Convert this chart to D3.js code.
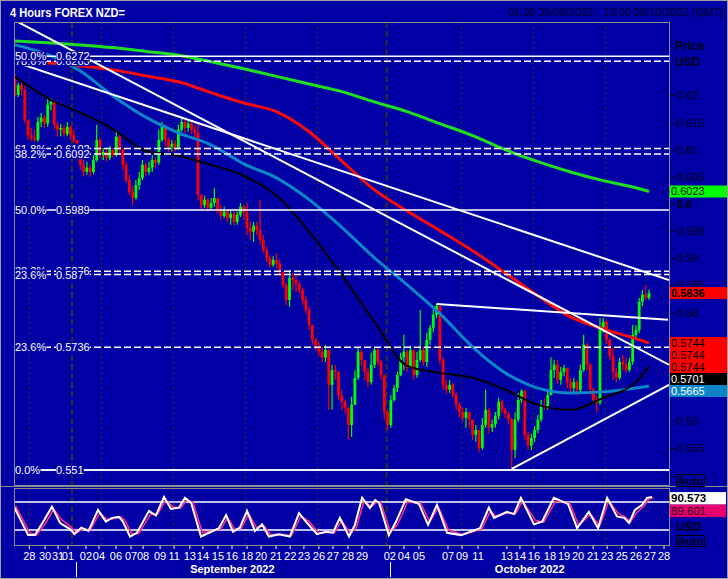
<!DOCTYPE html>
<html><head><meta charset="utf-8">
<script src="https://cdn.jsdelivr.net/npm/d3@7"></script>
<style>
body{margin:0;background:#0000a4;}
svg{display:block}
text{font-family:"Liberation Sans",Arial,sans-serif;}
</style></head>
<body><svg id="c" width="728" height="579"></svg>
<script>
// ---------------- DATA ----------------
const titleText = "4 Hours FOREX NZD=";
const rangeText = "01:00 26/08/2022 - 13:00 28/10/2022 (GMT)";
const firstOpen = 0.6234;
const closes = [
0.6201,0.6219,0.6210,0.6155,0.6127,0.6122,0.6118,0.6151,0.6159,0.6148,
0.6183,0.6188,0.6146,0.6137,0.6140,0.6129,0.6142,0.6127,0.6118,0.6100,
0.6072,0.6059,0.6067,0.6059,0.6081,0.6118,0.6090,0.6096,0.6085,0.6100,
0.6090,0.6124,0.6100,0.6072,0.6044,0.6022,0.6011,0.6035,0.6048,0.6072,
0.6059,0.6067,0.6081,0.6076,0.6118,0.6146,0.6118,0.6105,0.6111,0.6103,
0.6137,0.6151,0.6140,0.6148,0.6137,0.6131,0.6017,0.5998,0.6008,0.5993,
0.6002,0.6011,0.5989,0.5978,0.5986,0.5974,0.5982,0.5967,0.5980,0.5995,
0.5984,0.5956,0.5949,0.5960,0.5952,0.5934,0.5916,0.5901,0.5888,0.5897,
0.5890,0.5875,0.5851,0.5823,0.5864,0.5860,0.5853,0.5842,0.5823,0.5805,
0.5777,0.5750,0.5739,0.5728,0.5717,0.5731,0.5667,0.5694,0.5691,0.5648,
0.5636,0.5625,0.5593,0.5630,0.5680,0.5728,0.5713,0.5691,0.5672,0.5704,
0.5731,0.5709,0.5685,0.5617,0.5593,0.5639,0.5661,0.5685,0.5717,0.5728,
0.5698,0.5731,0.5685,0.5713,0.5731,0.5709,0.5750,0.5772,0.5796,0.5812,
0.5713,0.5667,0.5658,0.5667,0.5648,0.5630,0.5617,0.5606,0.5617,0.5603,
0.5575,0.5584,0.5551,0.5593,0.5621,0.5588,0.5595,0.5610,0.5636,0.5621,
0.5614,0.5603,0.5547,0.5603,0.5639,0.5656,0.5575,0.5555,0.5569,0.5584,
0.5603,0.5630,0.5627,0.5648,0.5694,0.5704,0.5676,0.5691,0.5698,0.5672,
0.5661,0.5672,0.5658,0.5694,0.5741,0.5704,0.5658,0.5639,0.5634,0.5772,
0.5783,0.5750,0.5720,0.5691,0.5680,0.5709,0.5704,0.5694,0.5709,0.5759,
0.5768,0.5820,0.5833,0.5827,0.5836];
const highs = [
0.6238,0.6223,0.6225,0.6218,0.6155,0.6140,0.6137,0.6160,0.6168,0.6164,
0.6195,0.6195,0.6192,0.6151,0.6148,0.6146,0.6151,0.6144,0.6137,0.6118,
0.6103,0.6081,0.6078,0.6072,0.6090,0.6146,0.6122,0.6103,0.6100,0.6107,
0.6103,0.6133,0.6127,0.6103,0.6078,0.6054,0.6033,0.6044,0.6059,0.6081,
0.6076,0.6078,0.6090,0.6085,0.6137,0.6151,0.6142,0.6122,0.6118,0.6118,
0.6146,0.6159,0.6155,0.6155,0.6151,0.6144,0.6151,0.6017,0.6015,0.6011,
0.6011,0.6030,0.6011,0.5998,0.5995,0.5989,0.5989,0.5986,0.5986,0.6002,
0.5998,0.6002,0.5967,0.5967,0.5967,0.6008,0.5943,0.5921,0.5906,0.5904,
0.5910,0.5897,0.5875,0.5855,0.5879,0.5873,0.5868,0.5857,0.5846,0.5831,
0.5811,0.5777,0.5753,0.5746,0.5737,0.5741,0.5731,0.5704,0.5704,0.5691,
0.5658,0.5639,0.5625,0.5645,0.5694,0.5735,0.5731,0.5713,0.5698,0.5726,
0.5737,0.5735,0.5713,0.5685,0.5621,0.5648,0.5667,0.5691,0.5726,0.5759,
0.5731,0.5739,0.5731,0.5728,0.5805,0.5737,0.5763,0.5777,0.5805,0.5816,
0.5812,0.5717,0.5676,0.5676,0.5671,0.5654,0.5634,0.5625,0.5625,0.5614,
0.5603,0.5593,0.5584,0.5606,0.5658,0.5625,0.5603,0.5617,0.5643,0.5639,
0.5625,0.5617,0.5606,0.5616,0.5652,0.5659,0.5658,0.5580,0.5577,0.5591,
0.5612,0.5639,0.5643,0.5658,0.5718,0.5713,0.5713,0.5700,0.5704,0.5698,
0.5680,0.5680,0.5676,0.5704,0.5759,0.5744,0.5707,0.5661,0.5648,0.5790,
0.5790,0.5787,0.5753,0.5735,0.5698,0.5717,0.5722,0.5717,0.5717,0.5777,
0.5777,0.5827,0.5842,0.5851,0.5842];
const lows = [
0.6197,0.6197,0.6201,0.6149,0.6118,0.6116,0.6114,0.6114,0.6142,0.6140,
0.6142,0.6173,0.6137,0.6124,0.6125,0.6124,0.6125,0.6118,0.6113,0.6090,
0.6063,0.6052,0.6054,0.6050,0.6055,0.6078,0.6085,0.6081,0.6078,0.6081,
0.6085,0.6087,0.6090,0.6063,0.6039,0.6017,0.5998,0.6008,0.6026,0.6044,
0.6052,0.6054,0.6059,0.6067,0.6072,0.6114,0.6107,0.6096,0.6096,0.6096,
0.6100,0.6133,0.6131,0.6133,0.6129,0.6122,0.6008,0.5989,0.5993,0.5986,
0.5989,0.5995,0.5982,0.5971,0.5974,0.5967,0.5962,0.5960,0.5962,0.5976,
0.5971,0.5943,0.5934,0.5930,0.5943,0.5925,0.5910,0.5893,0.5882,0.5884,
0.5882,0.5868,0.5846,0.5814,0.5811,0.5842,0.5838,0.5835,0.5814,0.5798,
0.5768,0.5741,0.5731,0.5720,0.5709,0.5709,0.5621,0.5621,0.5676,0.5639,
0.5621,0.5614,0.5566,0.5571,0.5630,0.5676,0.5702,0.5676,0.5663,0.5667,
0.5698,0.5702,0.5676,0.5603,0.5584,0.5588,0.5636,0.5654,0.5683,0.5694,
0.5691,0.5698,0.5676,0.5680,0.5709,0.5702,0.5700,0.5741,0.5764,0.5790,
0.5704,0.5658,0.5650,0.5652,0.5643,0.5621,0.5608,0.5599,0.5588,0.5588,
0.5566,0.5562,0.5542,0.5547,0.5588,0.5577,0.5580,0.5588,0.5603,0.5614,
0.5606,0.5595,0.5512,0.5532,0.5599,0.5634,0.5566,0.5547,0.5547,0.5562,
0.5578,0.5599,0.5621,0.5621,0.5648,0.5680,0.5669,0.5667,0.5683,0.5661,
0.5654,0.5654,0.5648,0.5654,0.5691,0.5694,0.5648,0.5632,0.5616,0.5630,
0.5763,0.5742,0.5713,0.5676,0.5672,0.5676,0.5694,0.5689,0.5691,0.5704,
0.5753,0.5763,0.5812,0.5823,0.5823];

// moving averages sampled at bar indices
const maIndex = [0,10,20,30,40,50,60,70,80,90,100,110,120,130,140,150,160,170,180,190,194];
const maGreen = [0.6300,0.6297,0.6293,0.6288,0.6281,0.6274,0.6262,0.6249,0.6235,0.6221,0.6207,0.6188,0.6170,0.6148,0.6126,0.6100,0.6078,0.6059,0.6043,0.6030,0.6023];
const maRed   = [null,0.6260,0.6254,0.6247,0.6236,0.6225,0.6205,0.6186,0.6170,0.6133,0.6079,0.6026,0.5987,0.5951,0.5914,0.5873,0.5831,0.5792,0.5770,0.5752,0.5744];
const maTeal  = [0.6293,0.6275,0.6245,0.6199,0.6160,0.6131,0.6109,0.6074,0.6048,0.6008,0.5957,0.5901,0.5851,0.5798,0.5737,0.5689,0.5661,0.5652,0.5654,0.5661,0.5665];
const maBlack = [0.6234,0.6195,0.6168,0.6138,0.6098,0.6089,0.6072,0.6052,0.6015,0.5949,0.5869,0.5783,0.5702,0.5689,0.5680,0.5658,0.5630,0.5621,0.5643,0.5672,0.5701];

// trend lines (bar, price) -> (bar, price)
const trendStartBar   = [-0.3, -0.3, 129, 152];
const trendStartPrice = [0.6339, 0.6262, 0.5816, 0.5512];
const trendEndBar     = [200.1, 200.1, 199.8, 200.1];
const trendEndPrice   = [0.5704, 0.5860, 0.5787, 0.5667];

// fibonacci retracements
const fibLevelsA = ["0.0%","23.6%","38.2%","50.0%","61.8%","78.6%"];
const fibValuesA = [0.551,0.5736,0.5876,0.5989,0.6102,0.6263];
const fibLevelsB = ["0.0%","23.6%","38.2%","50.0%"];
const fibValuesB = [0.551,0.587,0.6092,0.6272];

// price axis
const priceTicks = [0.62,0.615,0.61,0.605,0.6,0.595,0.59,0.585,0.58,0.575,0.57,0.565,0.56,0.555,0.55];
const markerValues = [0.6023,0.5836,0.5744,0.5744,0.5744,0.5701,0.5665];

// time axis
const dayLabels = ["28","30","31","01","02","04","06","07","08","09","11","13","14","15","16","18","20","21","22","23","26","27","28","29",
                   "02","04","05","07","09","11","13","14","16","18","19","20","21","23","25","26","27","28"];
const dayBars = [4.4,9.2,13.2,16.2,21.7,25.7,30.9,35.5,39.2,44.4,48.7,53.5,57.5,62.1,66.4,71.0,75.3,79.9,84.2,88.4,93.0,97.3,101.9,106.2,
                 114.7,119.0,123.6,132.5,136.8,141.7,150.5,154.5,158.8,163.7,168.0,172.3,176.9,181.2,185.7,190.0,194.3,198.6];
const monthLabels = ["September 2022","October 2022"];
const monthCenterBars = [66.5,157.5];
const monthStartBars = [18.7,114.6];
const weekGridBars = [4.28,26.3,48.35,70.4,92.4,136.5,158.5,180.5];
const monthGridBars = [17.44,113.7];

// oscillator
const oscBars = [-0.3,4.0,6.1,8.9,11.3,13.8,16.8,18.2,20.3,22.5,25.4,27.8,29.7,31.8,33.0,35.2,37.3,41.0,43.1,45.6,47.7,50.2,52.0,53.9,56.9,
  62.4,64.6,66.7,68.8,71.0,73.4,75.6,77.7,80.8,84.1,86.9,89.4,92.4,95.2,97.3,99.4,102.2,104.0,106.2,108.6,110.2,111.4,114.4,116.6,119.6,
  123.6,126.4,129.1,132.2,136.5,142.3,145.0,146.6,150.5,152.7,154.8,158.8,161.3,164.9,169.2,172.0,175.6,178.4,181.2,184.2,186.4,187.9,189.7,191.9,193.4,194.9];
const oscWhite = [70,9,9,41,70,35,22,11,25,18,63,38,46,48,38,6,14,61,51,91,65,68,89,78,6,
  24,52,16,25,61,18,32,6,11,6,56,35,11,16,14,46,6,31,89,67,84,78,9,38,86,
  76,31,74,14,9,24,68,46,59,54,89,32,38,89,76,24,59,24,89,49,46,35,63,74,89,90.573];
const oscPink = [72,14,9,35,65,42,25,14,22,20,56,42,44,48,42,12,12,54,54,84,70,67,84,80,14,
  22,46,22,24,55,25,30,10,10,8,49,39,14,15,14,40,12,26,80,71,80,79,15,32,80,
  78,38,68,20,10,22,61,50,57,55,82,40,37,82,78,30,54,29,82,55,47,38,57,71,86,89.601];
const oscLevels = [80,20];
const oscLast = [90.573,89.601];

// ---------------- DRAW ----------------
const BG="#0000a4", GRAY="#8c8c8c", AX="#000018";
const svg=d3.select("#c");
const P={x0:14,x1:669,y0:22,y1:485};
const O={y0:488,y1:545};
const x=d3.scaleLinear().domain([0,194]).range([15,649]);
const y=d3.scaleLinear().domain([0.55,0.62]).range([475.5,95.4]);
const yo=d3.scaleLinear().domain([0,100]).range([539.3,492.7]);

svg.append("rect").attr("width",728).attr("height",579).attr("fill",BG);
const defs=svg.append("defs");
defs.append("clipPath").attr("id","cm").append("rect").attr("x",P.x0).attr("y",P.y0).attr("width",P.x1-P.x0).attr("height",P.y1-P.y0);
defs.append("clipPath").attr("id","co").append("rect").attr("x",P.x0).attr("y",O.y0).attr("width",P.x1-P.x0).attr("height",O.y1-O.y0);

// grid
function grid(y0,y1){
  const g=svg.append("g");
  g.selectAll(".w").data(weekGridBars).join("line").attr("x1",d=>Math.round(x(d))+0.5).attr("x2",d=>Math.round(x(d))+0.5)
    .attr("y1",y0).attr("y2",y1).attr("stroke","#2c2c3a").attr("stroke-width",1.2).attr("stroke-dasharray","2,3");
  g.selectAll(".m").data(monthGridBars).join("line").attr("x1",d=>x(d)).attr("x2",d=>x(d))
    .attr("y1",y0).attr("y2",y1).attr("stroke","#2c2c34").attr("stroke-width",2.2).attr("stroke-dasharray","6,3");
}
grid(P.y0,P.y1); grid(O.y0,O.y1);

const main=svg.append("g").attr("clip-path","url(#cm)");

// candles
const bars=closes.map((c,i)=>{const o=i===0?firstOpen:closes[i-1];return {i,o,c,h:Math.max(highs[i],o,c),l:Math.min(lows[i],o,c)};});
const cg=main.append("g");
cg.selectAll("line").data(bars).join("line")
  .attr("x1",d=>x(d.i)).attr("x2",d=>x(d.i)).attr("y1",d=>y(d.h)).attr("y2",d=>y(d.l))
  .attr("stroke",d=>d.c>=d.o?"#00ff00":"#ff0000").attr("stroke-width",1.2);
cg.selectAll("rect").data(bars).join("rect")
  .attr("x",d=>x(d.i)-1.4).attr("width",2.8)
  .attr("y",d=>y(Math.max(d.o,d.c))).attr("height",d=>Math.max(1.5,Math.abs(y(d.o)-y(d.c))))
  .attr("fill",d=>d.c>=d.o?"#00ff00":"#ff0000");

// moving averages
function ma(vals,color,w){
  const line=d3.line().defined(d=>d[1]!=null).x(d=>x(d[0])).y(d=>y(d[1])).curve(d3.curveMonotoneX);
  main.append("path").datum(maIndex.map((b,k)=>[b,vals[k]])).attr("d",line)
    .attr("fill","none").attr("stroke",color).attr("stroke-width",w);
}
ma(maGreen,"#1fe01f",3);
ma(maRed,"#ff0a0a",3);
ma(maTeal,"#0a86c8",3);
ma(maBlack,"#000000",2);

// fib lines
const fibAll=[...fibValuesA.map((v,k)=>({v,l:fibLevelsA[k]})),...fibValuesB.map((v,k)=>({v,l:fibLevelsB[k]}))];
main.selectAll(".fib").data(fibAll).join("line")
  .attr("x1",P.x0).attr("x2",P.x1).attr("y1",d=>y(d.v)).attr("y2",d=>y(d.v))
  .attr("stroke","#ffffff").attr("stroke-width",1.5)
  .attr("stroke-dasharray",d=>(d.l==="50.0%"||d.l==="0.0%")?null:"7,3");

// trend lines
main.selectAll(".tl").data(trendStartBar.map((b,k)=>k)).join("line")
  .attr("x1",k=>x(trendStartBar[k])).attr("y1",k=>y(trendStartPrice[k]))
  .attr("x2",k=>x(trendEndBar[k])).attr("y2",k=>y(trendEndPrice[k]))
  .attr("stroke","#ffffff").attr("stroke-width",2);

// fib labels with background
const lg=svg.append("g").attr("font-size",11).attr("fill","#ffffff");
function bgText(g,tx,ty,str){
  const t=g.append("text").attr("x",tx).attr("y",ty).attr("dy","0.36em").text(str);
  const b=t.node().getBBox();
  g.insert("rect",()=>t.node()).attr("x",b.x).attr("y",b.y+1).attr("width",b.width).attr("height",b.height-2).attr("fill",BG);
}
fibAll.forEach(d=>{bgText(lg,15,y(d.v),d.l);bgText(lg,56,y(d.v),String(d.v));});

// borders
svg.append("rect").attr("x",P.x0+0.5).attr("y",P.y0+0.5).attr("width",P.x1-P.x0).attr("height",P.y1-P.y0)
  .attr("fill","none").attr("stroke",GRAY);
svg.append("line").attr("x1",0).attr("x2",728).attr("y1",486.5).attr("y2",486.5).attr("stroke",GRAY);

// value marker boxes (positions resolved first so hidden ticks can be skipped)
const mStyle=[{bg:"#00ff00",fg:"#000000",b:false},{bg:"#ff0000",fg:"#000000",b:true},{bg:"#ff0000",fg:"#000000",b:false},
  {bg:"#ff0000",fg:"#000000",b:false},{bg:"#ff0000",fg:"#000000",b:false},{bg:"#000000",fg:"#ffffff",b:false},{bg:"#0a86c8",fg:"#ffffff",b:false}];
let prevB=-1e9;
const mBoxes=markerValues.map(v=>{const top=Math.max(y(v)-6,prevB); prevB=top+12; return {v,top};});
const autoBox={top:474.5,bot:486.5};
const hidden=t=>{const ty=y(t);return mBoxes.some(b=>ty>=b.top-1&&ty<=b.top+13)||(ty>=autoBox.top-1&&ty<=autoBox.bot);};

// price axis
const ax=svg.append("g").attr("font-size",11).attr("fill",AX);
ax.selectAll("line").data(priceTicks).join("line").attr("x1",670).attr("x2",675)
  .attr("y1",d=>Math.round(y(d))+0.5).attr("y2",d=>Math.round(y(d))+0.5).attr("stroke",AX);
ax.selectAll("text").data(priceTicks.filter(t=>!hidden(t))).join("text").attr("x",677).attr("y",d=>y(d)).attr("dy","0.36em")
  .attr("font-weight",d=>d===0.6?"bold":null).text(d=>String(d));
ax.append("text").attr("x",675).attr("y",46).attr("dy","0.36em").attr("font-weight","bold").attr("font-size",12).text("Price");
ax.append("text").attr("x",675).attr("y",62).attr("dy","0.36em").attr("font-weight","bold").attr("font-size",12).text("USD");

mBoxes.forEach((m,k)=>{
  svg.append("rect").attr("x",670).attr("y",m.top).attr("width",58).attr("height",12).attr("fill",mStyle[k].bg);
  svg.append("text").attr("x",671).attr("y",m.top+6).attr("dy","0.35em").attr("font-size",11)
    .attr("font-weight",mStyle[k].b?"bold":null).attr("fill",mStyle[k].fg).text(d3.format(".4f")(m.v));
});
// Auto box main
svg.append("rect").attr("x",676.5).attr("y",474.5).attr("width",28).attr("height",12).attr("fill","none").attr("stroke","#000");
svg.append("text").attr("x",690.5).attr("y",480.5).attr("dy","0.36em").attr("text-anchor","middle").attr("font-size",11.5)
  .attr("font-weight","bold").attr("fill",AX).text("Auto");

// oscillator
const og=svg.append("g").attr("clip-path","url(#co)");
og.selectAll("line").data(oscLevels).join("line").attr("x1",P.x0).attr("x2",P.x1)
  .attr("y1",d=>yo(d)).attr("y2",d=>yo(d)).attr("stroke","#fff").attr("stroke-width",1.5);
const ol=d3.line().x(d=>x(d[0])).y(d=>yo(d[1])).curve(d3.curveLinear);
og.append("path").datum(oscBars.map((b,k)=>[b+0.5,oscPink[k]])).attr("d",ol).attr("fill","none").attr("stroke","#ff2a8c").attr("stroke-width",1.6);
og.append("path").datum(oscBars.map((b,k)=>[b,oscWhite[k]])).attr("d",ol).attr("fill","none").attr("stroke","#ffffff").attr("stroke-width",2);
svg.append("rect").attr("x",P.x0+0.5).attr("y",O.y0+0.5).attr("width",P.x1-P.x0).attr("height",O.y1-O.y0)
  .attr("fill","none").attr("stroke",GRAY);
const oStyle=[{bg:"#ffffff",fg:"#000000",b:true},{bg:"#e8006f",fg:"#2a0018",b:false}];
prevB=-1e9;
oscLast.forEach((v,k)=>{
  const top=Math.max(yo(v)-5,prevB); prevB=top+12.5;
  svg.append("rect").attr("x",670).attr("y",top).attr("width",56).attr("height",12.5).attr("fill",oStyle[k].bg);
  svg.append("text").attr("x",671).attr("y",top+6.25).attr("dy","0.35em").attr("font-size",11.5)
    .attr("font-weight",oStyle[k].b?"bold":null).attr("fill",oStyle[k].fg).text(String(v));
});
svg.append("text").attr("x",676).attr("y",527).attr("dy","0.36em").attr("font-size",12).attr("font-weight","bold").attr("fill",AX).text("USD");
svg.append("rect").attr("x",676.5).attr("y",535.5).attr("width",28).attr("height",11).attr("fill","none").attr("stroke","#000");
svg.append("text").attr("x",690.5).attr("y",541).attr("dy","0.36em").attr("text-anchor","middle").attr("font-size",11.5)
  .attr("font-weight","bold").attr("fill",AX).text("Auto");

// time axis
const tg=svg.append("g").attr("fill","#fff").attr("font-size",11);
tg.selectAll("line").data(dayBars).join("line").attr("x1",d=>x(d)).attr("x2",d=>x(d)).attr("y1",546).attr("y2",549).attr("stroke","#fff");
tg.selectAll("text").data(dayLabels).join("text").attr("x",(d,k)=>x(dayBars[k])).attr("y",556).attr("dy","0.36em")
  .attr("text-anchor","middle").text(d=>d);
svg.append("g").selectAll("line").data(monthStartBars).join("line").attr("x1",d=>Math.round(x(d))+0.5).attr("x2",d=>Math.round(x(d))+0.5)
  .attr("y1",562).attr("y2",577).attr("stroke","#fff");
svg.append("g").attr("fill","#fff").attr("font-size",11).attr("font-weight","bold").selectAll("text").data(monthLabels).join("text")
  .attr("x",(d,k)=>x(monthCenterBars[k])).attr("y",569).attr("dy","0.36em").attr("text-anchor","middle").text(d=>d);

// titles
svg.append("text").attr("x",10).attr("y",12).attr("dy","0.36em").attr("font-size",12.5).attr("font-weight","bold")
  .attr("fill","#fff").attr("textLength",115).attr("lengthAdjust","spacingAndGlyphs").text(titleText);
svg.append("text").attr("x",724).attr("y",12).attr("dy","0.36em").attr("font-size",11).attr("text-anchor","end")
  .attr("fill",AX).text(rangeText);
// outer frame
svg.append("rect").attr("x",0.5).attr("y",0.5).attr("width",727).attr("height",578).attr("fill","none").attr("stroke","#a0a0a0");
</script></body></html>
